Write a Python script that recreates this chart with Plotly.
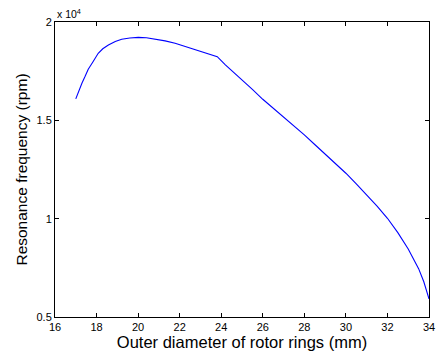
import plotly.graph_objects as go

diameter_mm = [17.0, 17.15, 17.3, 17.45, 17.6, 17.8, 18.08, 18.3, 18.57, 18.9, 19.21, 19.6,
               20.01, 20.4, 20.81, 21.3, 21.78, 22.25, 22.74, 23.3, 23.81, 24.2, 24.66,
               25.0, 25.5, 26.0, 26.5, 27.0, 27.5, 28.0, 28.5, 29.0, 29.5, 30.0, 30.5,
               31.0, 31.5, 32.0, 32.5, 33.0, 33.25, 33.5, 33.75, 34.0]
resonance_rpm = [16090, 16530, 16900, 17240, 17600, 17930, 18410, 18640, 18830, 19010, 19120, 19190,
                 19220, 19200, 19140, 19040, 18920, 18770, 18610, 18430, 18240, 17820, 17390,
                 17080, 16570, 16070, 15620, 15190, 14720, 14260, 13770, 13290, 12800, 12310, 11770,
                 11220, 10640, 10020, 9290, 8460, 7990, 7460, 6790, 5920]

x_ticks = [16, 18, 20, 22, 24, 26, 28, 30, 32, 34]
y_tickvals = [5000, 10000, 15000, 20000]
y_ticktext = ["0.5", "1", "1.5", "2"]

fig = go.Figure()
fig.add_trace(go.Scatter(x=diameter_mm, y=resonance_rpm, mode="lines",
                         line=dict(color="#0000ff", width=1.1),
                         showlegend=False))

axis_common = dict(showline=True, linecolor="black", linewidth=1, mirror="allticks",
                   ticks="inside", ticklen=4, tickcolor="black", showgrid=False,
                   zeroline=False, automargin=False, tickfont=dict(size=11, color="black"))

fig.update_layout(
    width=436, height=358,
    margin=dict(l=55, r=7, t=22, b=41),
    paper_bgcolor="white", plot_bgcolor="white",
    font=dict(family="Liberation Sans, Arial, sans-serif", color="black"),
    xaxis=dict(range=[16, 34], tickvals=x_ticks, title=dict(text="Outer diameter of rotor rings (mm)",
               font=dict(size=16.5), standoff=3), **axis_common),
    yaxis=dict(range=[5000, 20000], tickvals=y_tickvals, ticktext=y_ticktext,
               title=dict(text="Resonance frequency (rpm)", font=dict(size=15.5), standoff=5),
               **axis_common),
    annotations=[dict(text="x 10<sup>4</sup>", xref="paper", yref="paper", x=0, y=1,
                      xanchor="left", yanchor="bottom", showarrow=False,
                      font=dict(size=10.5, color="black"))],
)

fig.write_html("out.html", config={"displayModeBar": False},
               post_script="document.body.style.margin='0px';")
